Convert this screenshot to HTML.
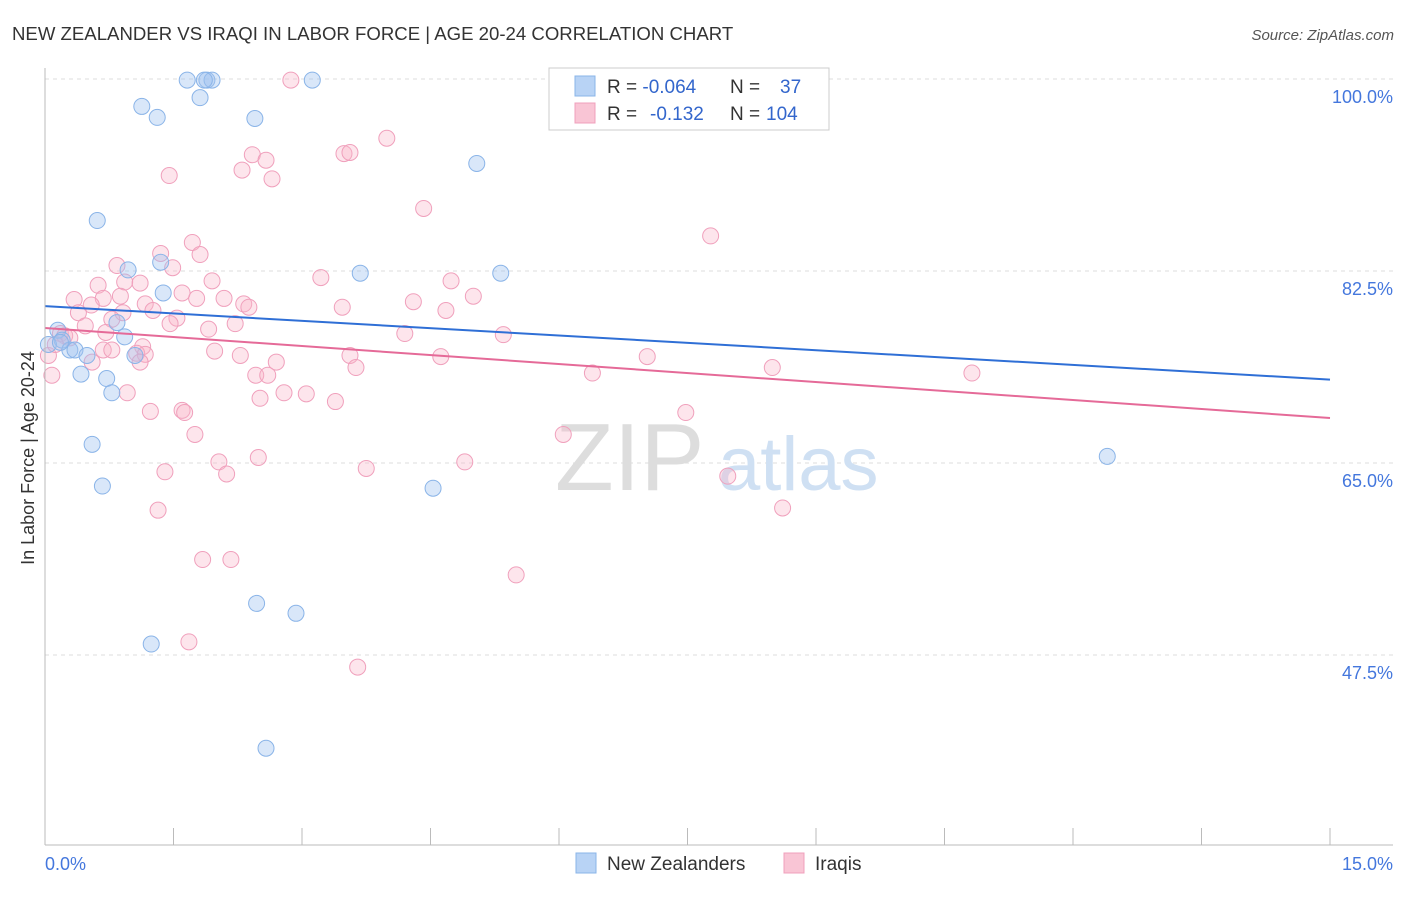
<!DOCTYPE html>
<html><head><meta charset="utf-8"><style>
body{margin:0;background:#fff;font-family:"Liberation Sans",sans-serif;}
svg text{font-family:"Liberation Sans",sans-serif;}
</style></head><body>
<svg width="1406" height="892">
<text x="12" y="40" font-size="18.6" fill="#333">NEW ZEALANDER VS IRAQI IN LABOR FORCE | AGE 20-24 CORRELATION CHART</text>
<text x="1394" y="40" font-size="15" fill="#555" text-anchor="end" font-style="italic">Source: ZipAtlas.com</text>
<g id="grid"></g>
<g><text x="555" y="490" font-size="96" fill="#ddd" font-family="Liberation Serif">ZIP</text><text x="718" y="490" font-size="76" fill="#cfe0f3">atlas</text></g>
<g id="pts"></g>
<g id="axes"></g>
<text x="34" y="458" font-size="18" fill="#333" text-anchor="middle" transform="rotate(-90 34 458)">In Labor Force | Age 20-24</text>
<g>
<rect x="549" y="68" width="280" height="62" fill="#fff" stroke="#ccc"/>
<rect x="575" y="76" width="20" height="20" fill="#b8d3f5" stroke="#8ab4e8"/>
<rect x="575" y="103" width="20" height="20" fill="#f9c5d5" stroke="#f0a0bc"/>
<text x="607" y="93" font-size="19" fill="#333">R = <tspan fill="#3366cc">-0.064</tspan><tspan x="730">N =</tspan><tspan x="780" fill="#3366cc">37</tspan></text>
<text x="607" y="120" font-size="19" fill="#333">R = <tspan x="650" fill="#3366cc">-0.132</tspan><tspan x="730">N =</tspan><tspan x="766" fill="#3366cc">104</tspan></text>
</g>
<g>
<rect x="576" y="853" width="20" height="20" fill="#b8d3f5" stroke="#8ab4e8"/>
<text x="607" y="870" font-size="19" fill="#333">New Zealanders</text>
<rect x="784" y="853" width="20" height="20" fill="#f9c5d5" stroke="#f0a0bc"/>
<text x="815" y="870" font-size="19" fill="#333">Iraqis</text>
</g>
</svg>
<script>
const yTicks=[100,82.5,65,47.5];
const yTickLabels=["100.0%","82.5%","65.0%","47.5%"];
const nzX=[1.66,1.89,1.95,1.86,3.12,1.13,1.81,1.31,2.45,5.04,0.61,0.97,1.35,3.68,5.32,1.38,0.84,0.93,0.15,0.20,0.29,0.35,0.49,1.05,0.42,0.72,0.78,0.55,0.67,4.53,2.47,2.93,1.24,2.58,12.40,0.04,0.18];
const nzY=[99.9,99.9,99.9,99.9,99.9,97.5,98.3,96.5,96.4,92.3,87.1,82.6,83.3,82.3,82.3,80.5,77.8,76.5,77.1,76.2,75.3,75.3,74.8,74.8,73.1,72.7,71.4,66.7,62.9,62.7,52.2,51.3,48.5,39.0,65.6,75.8,76.0];
const iqX=[2.87,3.99,3.49,3.56,2.42,2.58,2.30,1.45,2.65,4.42,7.77,1.72,1.35,1.81,0.84,1.49,3.22,4.74,0.93,1.11,1.95,0.62,1.60,5.00,0.34,0.68,0.88,2.09,1.77,1.17,2.32,3.47,4.30,2.38,0.54,0.39,1.26,0.91,4.68,0.78,1.54,0.47,1.46,2.22,1.91,0.71,0.18,0.23,4.20,5.35,1.14,0.68,1.07,1.17,1.98,0.78,2.28,3.56,4.62,7.03,2.70,1.11,0.55,3.63,8.49,2.46,10.82,6.39,0.08,0.04,2.60,0.96,2.79,3.05,2.51,3.39,1.23,1.60,1.63,7.48,1.75,6.05,2.03,2.49,4.90,1.40,2.12,3.75,7.97,1.32,8.61,1.84,2.17,5.50,1.68,3.65,0.12,0.29];
const iqY=[99.9,94.6,93.2,93.3,93.1,92.6,91.7,91.2,90.9,88.2,85.7,85.1,84.1,84.0,83.0,82.8,81.9,81.6,81.5,81.4,81.6,81.2,80.5,80.2,79.9,80.0,80.2,80.0,80.0,79.5,79.5,79.2,79.7,79.2,79.4,78.7,78.9,78.7,78.9,78.1,78.2,77.5,77.7,77.7,77.2,76.9,76.8,76.6,76.8,76.7,75.6,75.3,75.0,74.9,75.2,75.3,74.8,74.8,74.7,74.7,74.2,74.2,74.2,73.7,73.7,73.0,73.2,73.2,73.0,74.8,73.0,71.4,71.4,71.3,70.9,70.6,69.7,69.8,69.6,69.6,67.6,67.6,65.1,65.5,65.1,64.2,64.0,64.5,63.8,60.7,60.9,56.2,56.2,54.8,48.7,46.4,75.8,76.4];
const nzTrend=[79.3,72.6];
const iqTrend=[77.3,69.1];
const ns="http://www.w3.org/2000/svg";
const X=v=>45+v/15*1285;
const Y=v=>79+(100-v)/17.5*192;
function mk(t,a,p){const e=document.createElementNS(ns,t);for(const k in a)e.setAttribute(k,a[k]);p.appendChild(e);return e;}
const grid=document.getElementById('grid'),axes=document.getElementById('axes'),pts=document.getElementById('pts');
yTicks.forEach((v,i)=>{
 const l=mk('line',{x1:45,x2:1393,y1:Y(v),y2:Y(v),stroke:'#ddd','stroke-dasharray':'4,4'},grid);
 
 
 const t=mk('text',{x:1393,y:Y(v)+24,'font-size':18,fill:'#4477dd','text-anchor':'end'},axes);
 t.textContent=yTickLabels[i];
 
 
});
let a=mk('line',{x1:45,x2:45,y1:68,y2:845,stroke:'#bbb'},axes);


a=mk('line',{x1:45,x2:1393,y1:845,y2:845,stroke:'#bbb'},axes);


for(let i=0;i<=10;i++){const t=mk('line',{x1:X(i*1.5),x2:X(i*1.5),y1:828,y2:845,stroke:'#bbb'},axes);
 
 }
[[0,"0.0%",'start',45],[15,"15.0%",'end',1393]].forEach(d=>{const t=mk('text',{x:d[3],y:870,'font-size':18,fill:'#4477dd','text-anchor':d[2]},axes);t.textContent=d[1];
 
 });
iqX.forEach((x,i)=>{const c=mk('circle',{cx:X(x),cy:Y(iqY[i]),r:8,fill:'rgba(248,180,200,0.35)',stroke:'#f0a0bc','stroke-width':1},pts);
 
 });
nzX.forEach((x,i)=>{const c=mk('circle',{cx:X(x),cy:Y(nzY[i]),r:8,fill:'rgba(160,195,240,0.4)',stroke:'#8ab4e8','stroke-width':1},pts);
 
 });
let tl=mk('line',{x1:X(0),x2:X(15),y1:Y(nzTrend[0]),y2:Y(nzTrend[1]),stroke:'#2f6fd6','stroke-width':2},pts);


tl=mk('line',{x1:X(0),x2:X(15),y1:Y(iqTrend[0]),y2:Y(iqTrend[1]),stroke:'#e56a98','stroke-width':2},pts);


</script>
</body></html>
